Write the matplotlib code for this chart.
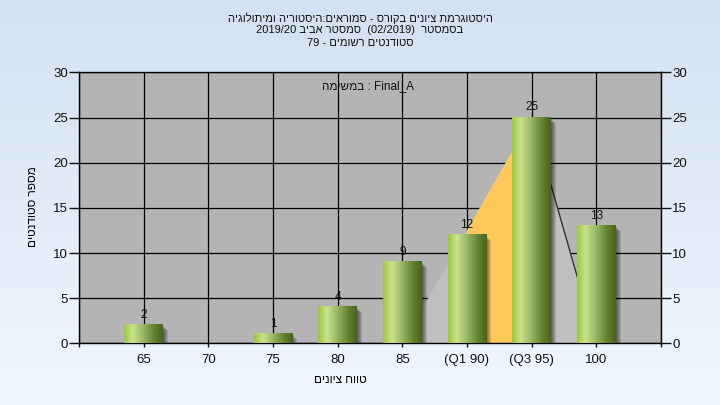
import re
import numpy as np
import matplotlib
matplotlib.use('Agg')
import matplotlib.pyplot as plt
from matplotlib.colors import LinearSegmentedColormap
from matplotlib.patches import Rectangle, Polygon

plt.rcParams['font.family'] = ['Liberation Sans', 'DejaVu Sans']

# data
categories = ['65', '70', '75', '80', '85', '(Q1 90)', '(Q3 95)', '100']
grades = [65, 70, 75, 80, 85, 90, 95, 100]
counts = [2, 0, 1, 4, 9, 12, 25, 13]
tri_grades = [85, 95, 100]
tri_counts = [0, 25, 0]
q1, q3 = 90, 95

title_lines = ['היסטוגרמת ציונים בקורס - סמוראים:היסטוריה ומיתולוגיה',
               'בסמסטר  (02/2019)  סמסטר אביב 2019/20',
               'סטודנטים רשומים - 79']
task_word = 'במשימה'
task_name = 'Final_A'
xlabel = 'טווח ציונים'
ylabel = 'מספר סטודנטים'

MIRROR = {'(': ')', ')': '('}


def heb(s):
    # rtl paragraph -> visual order for matplotlib
    toks = re.findall(r'[A-Za-z0-9_/.]+|.', s)
    return ''.join(MIRROR.get(t, t) for t in reversed(toks))


def gpos(g):
    return (g - grades[0]) / 5.0


fig = plt.figure(figsize=(7.2, 4.05), dpi=100)

# background gradient
bg = fig.add_axes([0, 0, 1, 1], zorder=-10)
bg_cmap = LinearSegmentedColormap.from_list('bg', ['#f0f6fd', '#d4e1f3'])
bg.imshow(np.linspace(0, 1, 100).reshape(-1, 1), cmap=bg_cmap, origin='lower',
          extent=[0, 1, 0, 1], aspect='auto')
bg.axis('off')

ax = fig.add_axes([0.1097, 0.1523, 0.8083, 0.669])
ax.set_facecolor('#b4b4b4')
ax.set_axisbelow(True)
ax.grid(True, color='black', lw=0.9)

# triangle + quartile band
tx = [gpos(g) for g in tri_grades]
ax.add_patch(Polygon(list(zip(tx, tri_counts)), closed=True, facecolor='#bfbfbf',
                     edgecolor='none', zorder=1))
y_q1 = np.interp(gpos(q1), tx, tri_counts)
y_q3 = np.interp(gpos(q3), tx, tri_counts)
ax.add_patch(Polygon([(gpos(q1), 0), (gpos(q1), y_q1), (gpos(q3), y_q3), (gpos(q3), 0)],
                     closed=True, facecolor='#ffc95a', edgecolor='none', zorder=1.5))
ax.plot(tx[1:], tri_counts[1:], color='#333333', lw=1, zorder=1.6)

# bars with shadow and gradient
bar_cmap = LinearSegmentedColormap.from_list(
    'bar', [(0, '#9cc93a'), (0.22, '#c9e48e'), (0.45, '#a3bb6c'),
            (0.8, '#5f7f2e'), (1, '#48641f')])
grad = np.linspace(0, 1, 64).reshape(1, -1)
w = 0.6
px_x = 9.0 / 582
px_y = 30.0 / 271
for i, c in enumerate(counts):
    if c == 0:
        continue
    for k in range(1, 6):
        ax.add_patch(Rectangle((i - w / 2 + k * px_x, -k * px_y), w, c,
                               facecolor='black', alpha=0.12, edgecolor='none', zorder=3))
    ax.imshow(grad, cmap=bar_cmap, extent=[i - w / 2, i + w / 2, 0, c],
              aspect='auto', zorder=4)
    ax.annotate(str(c), (i, c), xytext=(0, 3), textcoords='offset points',
                ha='center', va='bottom', fontsize=8.5, color='#111111', zorder=5)

ax.set_xlim(-1, 8)
ax.set_ylim(0, 30)
ax.set_xticks(range(-1, 9))
ax.set_xticklabels([''] + categories + [''])
ax.set_yticks(range(0, 31, 5))
ax.tick_params(axis='y', direction='out', length=7, width=1, pad=1,
               right=True, labelright=True, labelsize=9.5, colors='#111111')
ax.tick_params(axis='x', direction='out', length=3, width=1, pad=5,
               labelsize=9.5, colors='#111111')
for s in ax.spines.values():
    s.set_color('black')
    s.set_linewidth(1.0)

# texts
for yy, line in zip([18, 30, 43], title_lines):
    fig.text(0.5, 1 - yy / 405, heb(line), ha='center', va='center', fontsize=8, color='#111111')
fig.text(368 / 720, 1 - 86 / 405, task_word[::-1] + ' : ' + task_name,
         ha='center', va='center', fontsize=8.5, color='#111111')
fig.text(340 / 720, 1 - 380 / 405, heb(xlabel), ha='center', va='center', fontsize=8.5)
fig.text(33 / 720, 1 - 207 / 405, heb(ylabel), ha='center', va='center', rotation=90,
         fontsize=8.5)

fig.savefig('out.png', dpi=100)
